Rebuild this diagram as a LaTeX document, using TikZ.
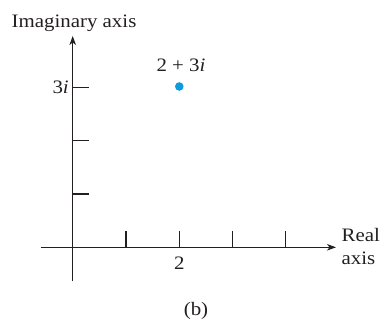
\documentclass[tikz,border=0pt]{standalone}
\usepackage{fontspec}
\setmainfont[FakeStretch=1.1]{Liberation Serif}
\usetikzlibrary{arrows.meta}
\definecolor{dotblue}{RGB}{16,155,222}
\definecolor{ink}{RGB}{35,31,32}
\begin{document}
\begin{tikzpicture}[x=1pt,y=-1pt,
  axisline/.style={line width=1.1pt, draw=ink},
  tickline/.style={line width=1.1pt, draw=ink},
  lbl/.style={font=\fontsize{19}{22}\selectfont, text=ink, inner sep=0pt}]
\useasboundingbox (0,0) rectangle (381,321);
% axes
\coordinate (o) at (72.7,247.3);
\coordinate (ytop) at (72.7,36);
\coordinate (ybot) at (72.7,281);
\coordinate (xl) at (40.7,247.3);
\coordinate (xr) at (336,247.3);
\draw[axisline,-{Stealth[length=9pt,width=6.5pt,inset=2.5pt]}] (ybot) -- (ytop);
\draw[axisline,-{Stealth[length=9pt,width=6.5pt,inset=2.5pt]}] (xl) -- (xr);
% x ticks
\foreach \i/\x in {1/126,2/179.3,3/232.7,4/285.7}{
  \coordinate (xt\i) at (\x,247.3);
  \coordinate (xe\i) at (\x,231.5);
  \draw[tickline] (xt\i) -- (xe\i);
}
% y ticks
\foreach \i/\y in {1/194,2/140.7,3/87.3}{
  \coordinate (yt\i) at (72.7,\y);
  \coordinate (ye\i) at (89,\y);
  \draw[tickline] (yt\i) -- (ye\i);
}
% point
\node[circle, fill=dotblue, inner sep=0pt, minimum size=8.6pt] (pt) at (179.3,86.5) {};
% labels
\node[lbl, anchor=base] (imag) at (74,28) {Imaginary axis};
\node[lbl, anchor=base east] (three) at (69,93.5) {3\textit{i}};
\node[lbl, anchor=base] (zlab) at (181,72) {2 + 3\textit{i}};
\node[lbl, anchor=base] (two) at (179.3,269.5) {2};
\node[lbl, anchor=base west] (real) at (341.5,241) {Real};
\node[lbl, anchor=base west] (raxis) at (341.5,265) {axis};
\node[lbl, anchor=base] (b) at (196,316) {(b)};
\end{tikzpicture}
\end{document}
